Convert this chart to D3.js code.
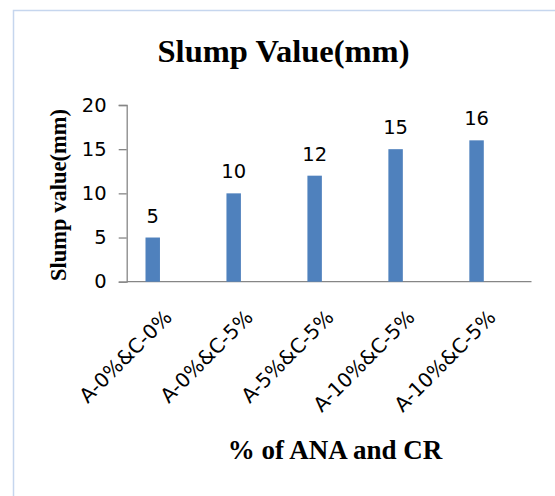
<!DOCTYPE html>
<html>
<head>
<meta charset="utf-8">
<script src="https://cdn.jsdelivr.net/npm/d3@7"></script>
<style>
  html, body { margin: 0; padding: 0; background: #ffffff; }
  svg { display: block; }
</style>
</head>
<body>
<div id="chart"></div>
<script>
// Slump test results for each ANA / CR replacement mix
const categories = ["A-0%&C-0%", "A-0%&C-5%", "A-5%&C-5%", "A-10%&C-5%", "A-10%&C-5%"];
const slumpValues = [5, 10, 12, 15, 16];
const yTicks = [0, 5, 10, 15, 20];
const seriesSlots = ["Slump value", "", ""];   // clustered layout, one filled series

const W = 555, H = 496;
const svg = d3.select("#chart").append("svg")
  .attr("width", W).attr("height", H);

svg.append("rect").attr("width", W).attr("height", H).attr("fill", "#fff");

// chart frame
svg.append("rect")
  .attr("x", 13.5).attr("y", 10.5)
  .attr("width", W + 20).attr("height", H + 20)
  .attr("fill", "none")
  .attr("stroke", "#c6d6ee").attr("stroke-width", 1.5);

const plot = { left: 126.7, right: 531.5, top: 105, bottom: 281.7 };

const x = d3.scaleBand()
  .domain(d3.range(categories.length))
  .range([plot.left, plot.right])
  .paddingInner(0).paddingOuter(0);

const xs = d3.scaleBand()
  .domain(d3.range(seriesSlots.length))
  .range([0, x.bandwidth()])
  .paddingInner(0).paddingOuter(1.3);

const y = d3.scaleLinear().domain([0, 20]).range([plot.bottom, plot.top]);

const axisColor = "#868686";
const sansFont = "'DejaVu Sans', sans-serif";
const serifFont = "'Times New Roman', 'Liberation Serif', serif";

// y axis
const yAxis = svg.append("g")
  .attr("transform", `translate(${plot.left},0)`)
  .call(d3.axisLeft(y).tickValues(yTicks).tickSize(8).tickPadding(12).tickFormat(d3.format("d")));
yAxis.select(".domain").attr("stroke", axisColor).attr("stroke-width", 1.3);
yAxis.selectAll(".tick line").attr("stroke", axisColor).attr("stroke-width", 1.3);
yAxis.selectAll(".tick text")
  .attr("fill", "#000")
  .style("font-family", sansFont)
  .style("font-size", "19.5px");

// x axis baseline
svg.append("line")
  .attr("x1", plot.left).attr("x2", x.range()[1])
  .attr("y1", y(0)).attr("y2", y(0))
  .attr("stroke", axisColor).attr("stroke-width", 1.3);

// bars
svg.selectAll("rect.bar")
  .data(slumpValues)
  .join("rect")
  .attr("class", "bar")
  .attr("x", (d, i) => x(i) + xs(0))
  .attr("width", xs.bandwidth())
  .attr("y", d => y(d))
  .attr("height", d => y(0) - y(d))
  .attr("fill", "#4f81bd");

// value labels
svg.selectAll("text.val")
  .data(slumpValues)
  .join("text")
  .attr("class", "val")
  .attr("x", (d, i) => x(i) + xs(0) + xs.bandwidth() / 2)
  .attr("y", d => y(d) - 15)
  .attr("text-anchor", "middle")
  .style("font-family", sansFont)
  .style("font-size", "19.5px")
  .attr("fill", "#000")
  .text(d => d);

// rotated category labels
svg.selectAll("text.cat")
  .data(categories)
  .join("text")
  .attr("class", "cat")
  .attr("transform", (d, i) => `translate(${x(i) + x.bandwidth() / 2 + 1},${y(0) + 32}) rotate(-45)`)
  .attr("text-anchor", "end")
  .attr("dy", "0.35em")
  .style("font-family", sansFont)
  .style("font-size", "20px")
  .attr("fill", "#000")
  .text(d => d);

// titles
svg.append("text")
  .attr("x", 283.5).attr("y", 62)
  .attr("text-anchor", "middle")
  .style("font-family", serifFont)
  .style("font-weight", "bold")
  .style("font-size", "32.5px")
  .text("Slump Value(mm)");

svg.append("text")
  .attr("x", 335).attr("y", 459)
  .attr("text-anchor", "middle")
  .style("font-family", serifFont)
  .style("font-weight", "bold")
  .style("font-size", "27px")
  .text("% of ANA and CR");

svg.append("text")
  .attr("transform", "translate(66,195) rotate(-90)")
  .attr("text-anchor", "middle")
  .style("font-family", serifFont)
  .style("font-weight", "bold")
  .style("font-size", "22.5px")
  .text("Slump value(mm)");
</script>
</body>
</html>
